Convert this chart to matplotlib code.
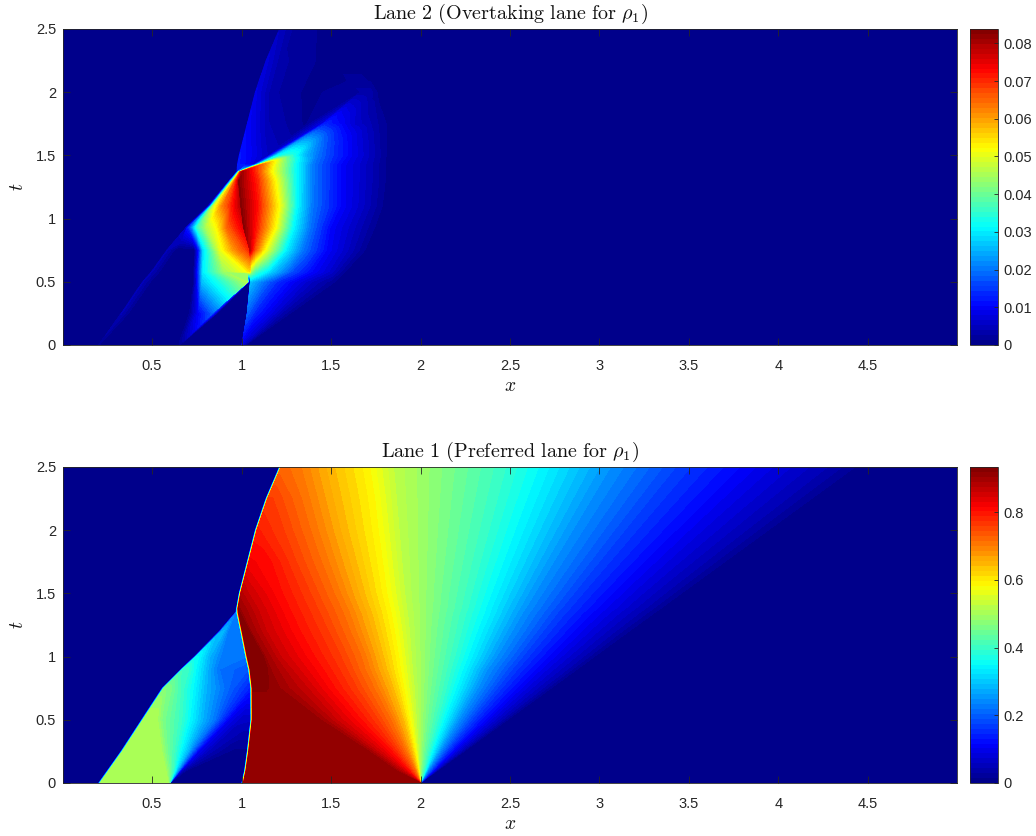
import numpy as np
import matplotlib
matplotlib.use('Agg')
import matplotlib.pyplot as plt
from matplotlib.colors import LinearSegmentedColormap

plt.rcParams['font.family'] = ['Liberation Sans', 'DejaVu Sans']
plt.rcParams['mathtext.fontset'] = 'cm'

XMIN = 0.0025
XMAX = 4.9975

# ---- Lane 2: nodes read row by row (t), x position and density at each node
t_lane2 = [0, .25, .5, .58, .75, .93, 1.1, 1.3, 1.37, 1.43, 1.5, 1.75, 2, 2.25, 2.5]
x_lane2 = [
    [.2, .202, .21, .64, .645, .65, .655, .66, 1.0, 1.002, 1.006, 1.01, 1.014, 1.018, 1.022, 1.026],
    [.325, .33, .385, .70, .72, .76, .835, .865, 1.03, 1.032, 1.08, 1.13, 1.18, 1.22, 1.26, 1.29],
    [.445, .45, .51, .73, .745, .78, 1.035, 1.04, 1.047, 1.05, 1.12, 1.2, 1.3, 1.4, 1.5, 1.56],
    [.495, .5, .56, .73, .748, .785, .90, 1.03, 1.047, 1.049, 1.08, 1.16, 1.28, 1.38, 1.5, 1.6],
    [.58, .585, .64, .735, .755, .785, .88, .95, 1.045, 1.047, 1.07, 1.13, 1.25, 1.34, 1.48, 1.72],
    [.69, .692, .70, .72, .75, .80, .86, .92, 1.01, 1.012, 1.09, 1.19, 1.29, 1.38, 1.5, 1.78],
    [.81, .82, .83, .84, .855, .89, .94, .975, .995, .997, 1.09, 1.21, 1.31, 1.395, 1.56, 1.82],
    [.93, .937, .944, .95, .958, .966, .972, .978, .982, .984, 1.09, 1.19, 1.31, 1.4, 1.56, 1.84],
    [.972, .976, .98, .984, .988, .992, .996, 1.0, 1.004, 1.01, 1.09, 1.17, 1.31, 1.4, 1.56, 1.84],
    [.975, .98, 1.03, 1.07, 1.085, 1.095, 1.105, 1.115, 1.125, 1.14, 1.16, 1.19, 1.31, 1.4, 1.56, 1.84],
    [.985, .99, 1.08, 1.15, 1.18, 1.2, 1.23, 1.26, 1.29, 1.31, 1.33, 1.36, 1.42, 1.5, 1.62, 1.84],
    [1.03, 1.035, 1.15, 1.36, 1.45, 1.46, 1.48, 1.5, 1.53, 1.56, 1.6, 1.64, 1.68, 1.72, 1.78, 1.86],
    [1.075, 1.08, 1.17, 1.36, 1.66, 1.665, 1.68, 1.69, 1.7, 1.71, 1.72, 1.73, 1.74, 1.75, 1.76, 1.78],
    [1.135, 1.14, 1.22, 1.45, 1.46, 1.5, 1.52, 1.54, 1.56, 1.58, 1.6, 1.62, 1.64, 1.66, 1.68, 1.7],
    [1.21, 1.215, 1.3, 1.47, 1.48, 1.5, 1.52, 1.54, 1.56, 1.58, 1.6, 1.62, 1.64, 1.66, 1.68, 1.7],
]
z_lane2 = [
    [0, .002, 0, 0, .001, .001, .001, 0, 0, .008, .007, .006, .005, .004, .002, 0],
    [0, .004, 0, 0, .003, .01, .018, 0, 0, .018, .013, .010, .007, .004, .002, 0],
    [0, .004, 0, 0, .006, .026, .046, 0, 0, .026, .02, .014, .009, .005, .002, 0],
    [0, .004, 0, 0, .008, .03, .044, .052, .055, .045, .037, .028, .017, .011, .006, 0],
    [0, .004, 0, 0, .008, .028, .05, .06, .07, .078, .068, .052, .03, .02, .01, 0],
    [0, .006, .012, .02, .035, .045, .052, .065, .075, .083, .07, .052, .031, .02, .01, 0],
    [0, .01, .03, .045, .052, .062, .07, .076, .079, .083, .072, .052, .031, .02, .01, 0],
    [0, .02, .035, .05, .06, .068, .072, .076, .079, .083, .07, .052, .031, .02, .01, 0],
    [0, .012, .025, .04, .055, .068, .075, .078, .08, .08, .068, .052, .031, .02, .01, 0],
    [0, .012, .01, .007, .02, .035, .05, .06, .063, .06, .056, .05, .031, .02, .01, 0],
    [0, .012, .008, .005, .02, .03, .034, .035, .034, .031, .028, .025, .02, .015, .009, 0],
    [0, .01, .004, .001, .008, .012, .013, .012, .011, .01, .008, .006, .005, .004, .002, 0],
    [0, .008, .003, .001, .002, .003, .003, .003, .003, .003, .003, .003, .002, .002, .001, 0],
    [0, .007, .003, .001, 0, 0, 0, 0, 0, 0, 0, 0, 0, 0, 0, 0],
    [0, .005, .002, .001, 0, 0, 0, 0, 0, 0, 0, 0, 0, 0, 0, 0],
]

# ---- Lane 1: contour positions x(t) for each density value
t_lane1 = [0, .1, .25, .5, .75, .9, 1.0, 1.2, 1.35, 1.38, 1.5, 1.75, 2.0, 2.25, 2.5]
shock_lane1 = [1.0, 1.015, 1.03, 1.05, 1.05, 1.038, 1.022, .994, .972, .97, .985, 1.03, 1.075, 1.135, 1.21]
front_lane1 = [.2, .25, .325, .44, .555, .66, .735, .873, .965, .97, .985, 1.03, 1.075, 1.135, 1.21]
front_state = [.51, .51, .51, .51, .47, .40, .35, .27, .22, 0, 0, 0, 0, 0, 0]
left_state = [0, 0, .01, .06, .14, .19, .22, .22, .22, 0, 0, 0, 0, 0, 0]
right_state = [.905, .905, .905, .905, .92, .93, .93, .93, .93, .93, .88, .82, .79, .76, .72]

z_left = [.51, .51, .46, .40, .35, .28, .22, .10, .05, .02, 0, 0]
x_left = [
    [0, 0, 0, 0, 0, 0, 0, 0, 0, 0, 0, 0, 0, 0, 0],
    [.59, .57, .545, .52, .56, 0, 0, 0, 0, 0, 0, 0, 0, 0, 0],
    [.595, .595, .58, .56, .60, 0, 0, 0, 0, 0, 0, 0, 0, 0, 0],
    [.6, .62, .63, .66, .67, .70, .74, .875, .97, 0, 0, 0, 0, 0, 0],
    [.6, .63, .66, .71, .73, .745, .76, .88, .975, 0, 0, 0, 0, 0, 0],
    [.6, .64, .70, .78, .80, .81, .82, .90, .975, 0, 0, 0, 0, 0, 0],
    [.6, .65, .72, .85, .90, .87, .90, .93, .975, 0, 0, 0, 0, 0, 0],
    [.6, .66, .76, .93, 2, 2, 2, 2, 2, 2, 2, 2, 2, 2, 2],
    [.6, .67, .82, 1.0, 2, 2, 2, 2, 2, 2, 2, 2, 2, 2, 2],
    [.6, .69, .90, 2, 2, 2, 2, 2, 2, 2, 2, 2, 2, 2, 2],
    [.6, .70, .95, 2, 2, 2, 2, 2, 2, 2, 2, 2, 2, 2, 2],
    [2, 2, 2, 2, 2, 2, 2, 2, 2, 2, 2, 2, 2, 2, 2],
]

z_right = [.93, .93, .905, .86, .81, .76, .71, .65, .59, .52, .46, .40, .34, .25, .17, .09, .04, 0]
x_right = [
    [0, 0, 0, 0, 0, 0, 0, 0, 0, 0, 0, 0, 0, 0, 0],
    [0, 0, 0, 0, 1.144, 1.135, 1.116, 1.04, .985, .975, 0, 0, 0, 0, 0],
    [2, 1.86, 1.71, 1.44, 1.21, 1.16, 1.13, 1.05, 1.0, .99, 0, 0, 0, 0, 0],
    [2, 1.90, 1.76, 1.53, 1.37, 1.28, 1.22, 1.14, 1.10, 1.09, 1.04, 0, 0, 0, 0],
    [2, 1.93, 1.83, 1.65, 1.50, 1.43, 1.38, 1.30, 1.25, 1.24, 1.2, 1.14, 1.09, 0, 0],
    [2, 1.95, 1.88, 1.76, 1.64, 1.585, 1.55, 1.48, 1.43, 1.42, 1.38, 1.3, 1.23, 1.17, 0],
    [2, 1.97, 1.92, 1.84, 1.75, 1.70, 1.68, 1.62, 1.58, 1.57, 1.53, 1.46, 1.40, 1.35, 1.30],
    [2, 1.98, 1.95, 1.90, 1.84, 1.80, 1.78, 1.74, 1.71, 1.70, 1.67, 1.62, 1.57, 1.53, 1.49],
    [2, 1.99, 1.97, 1.935, 1.90, 1.88, 1.87, 1.845, 1.825, 1.82, 1.80, 1.775, 1.75, 1.73, 1.70],
    [2, 1.995, 1.99, 1.98, 1.97, 1.96, 1.955, 1.945, 1.935, 1.93, 1.92, 1.905, 1.89, 1.875, 1.86],
    [2, 2.005, 2.015, 2.03, 2.045, 2.055, 2.06, 2.07, 2.08, 2.085, 2.09, 2.105, 2.12, 2.135, 2.15],
    [2, 2.02, 2.045, 2.09, 2.135, 2.16, 2.18, 2.215, 2.24, 2.25, 2.27, 2.315, 2.36, 2.405, 2.45],
    [2, 2.03, 2.07, 2.14, 2.21, 2.25, 2.28, 2.335, 2.38, 2.385, 2.42, 2.49, 2.56, 2.63, 2.70],
    [2, 2.04, 2.105, 2.21, 2.315, 2.37, 2.42, 2.505, 2.565, 2.58, 2.63, 2.735, 2.84, 2.945, 3.05],
    [2, 2.06, 2.145, 2.29, 2.435, 2.52, 2.58, 2.695, 2.78, 2.80, 2.87, 3.015, 3.16, 3.305, 3.45],
    [2, 2.08, 2.195, 2.39, 2.585, 2.70, 2.78, 2.935, 3.05, 3.08, 3.17, 3.365, 3.56, 3.755, 3.95],
    [2, 2.09, 2.23, 2.46, 2.69, 2.83, 2.92, 3.10, 3.24, 3.27, 3.38, 3.61, 3.84, 4.07, 4.30],
    [2, 2.10, 2.25, 2.50, 2.75, 2.90, 3.0, 3.2, 3.35, 3.38, 3.5, 3.75, 4.0, 4.25, 4.5],
]

# Colorbar ranges and ticks
zmax_lane2 = 0.0838
zmax_lane1 = 0.933
cticks_lane2 = [0, .01, .02, .03, .04, .05, .06, .07, .08]
cticks_lane1 = [0, .2, .4, .6, .8]
xticks = [.5, 1, 1.5, 2, 2.5, 3, 3.5, 4, 4.5]
yticks = [0, .5, 1, 1.5, 2, 2.5]
xlabels = ['0.5', '1', '1.5', '2', '2.5', '3', '3.5', '4', '4.5']
ylabels = ['0', '0.5', '1', '1.5', '2', '2.5']

title_lane2 = r'$\mathrm{Lane\ 2\ (Overtaking\ lane\ for\ }\rho_1\mathrm{)}$'
title_lane1 = r'$\mathrm{Lane\ 1\ (Preferred\ lane\ for\ }\rho_1\mathrm{)}$'

# MATLAB's jet is a bit different from the matplotlib one
jet_matlab = LinearSegmentedColormap.from_list('jet_matlab', [
    (0, (0, 0, .5156)), (.125, (0, 0, 1)), (.375, (0, 1, 1)),
    (.625, (1, 1, 0)), (.875, (1, 0, 0)), (1, (.5, 0, 0))], N=256)


def mesh_lane2():
    x = np.array(x_lane2)
    z = np.array(z_lane2)
    nrow = x.shape[0]
    X = np.column_stack([np.full(nrow, XMIN), x, np.full(nrow, XMAX)])
    Z = np.column_stack([np.zeros(nrow), z, np.zeros(nrow)])
    T = np.repeat(np.array(t_lane2)[:, None], X.shape[1], axis=1)
    return X, T, Z


def mesh_lane1():
    shock = np.array(shock_lane1)
    front = np.array(front_lane1)
    nrow = len(t_lane1)
    cols_x = [np.full(nrow, XMIN), front]
    cols_z = [np.zeros(nrow), np.zeros(nrow)]
    # left wave, kept between the front and the shock
    lo = np.minimum(front + 0.012, shock)
    for zval, xcol in zip(z_left, x_left):
        xc = np.clip(np.array(xcol, float), lo, shock)
        zc = np.maximum(zval, np.array(left_state))
        zc = np.where(xc <= lo, np.minimum(zc, front_state), zc)
        cols_x.append(xc)
        cols_z.append(zc)
    # right part, kept to the right of the shock
    hi = shock + 0.012
    for zval, xcol in zip(z_right, x_right):
        cols_x.append(np.maximum(np.array(xcol, float), hi))
        cols_z.append(np.minimum(zval, np.array(right_state)))
    cols_x.append(np.full(nrow, XMAX))
    cols_z.append(np.zeros(nrow))
    X = np.column_stack(cols_x)
    Z = np.column_stack(cols_z)
    T = np.repeat(np.array(t_lane1)[:, None], X.shape[1], axis=1)
    return X, T, Z


def draw_panel(fig, top_px, X, T, Z, zmax, cticks, cticklabels, title):
    W, H = 1036.0, 836.0
    h = 316.0
    ax = fig.add_axes([63 / W, 1 - (top_px + h) / H, 894 / W, h / H])
    cax = fig.add_axes([970 / W, 1 - (top_px + h) / H, 28 / W, h / H])
    # slivers along the shock can miss pixels, so no white behind them
    ax.set_facecolor('#c8f060')
    levels = np.linspace(0, zmax, 65)
    cf = ax.contourf(X, T, Z, levels=levels, cmap=jet_matlab)
    ax.set_xlim(XMIN, XMAX)
    ax.set_ylim(0, 2.5)
    ax.set_xticks(xticks)
    ax.set_xticklabels(xlabels)
    ax.set_yticks(yticks)
    ax.set_yticklabels(ylabels)
    ax.tick_params(direction='in', top=True, right=True, length=5, width=0.6,
                   color='#262626', labelcolor='#262626', labelsize=10.5)
    ax.tick_params(axis='x', pad=10)
    ax.tick_params(axis='y', pad=5)
    for s in ax.spines.values():
        s.set_linewidth(0.6)
        s.set_color('#262626')
    ax.set_title(title, fontsize=14.5, pad=7, color='#111111')
    ax.set_xlabel(r'$x$', fontsize=14, labelpad=4, color='#111111')
    ax.set_ylabel(r'$t$', fontsize=14, labelpad=6, color='#111111')

    cbar = fig.colorbar(cf, cax=cax, ticks=cticks)
    cbar.ax.set_yticklabels(cticklabels)
    cbar.ax.tick_params(direction='in', length=3, width=0.6, color='#262626',
                        labelcolor='#262626', labelsize=10.5, pad=4)
    cbar.outline.set_linewidth(0.6)
    cbar.outline.set_edgecolor('#262626')
    return ax


fig = plt.figure(figsize=(10.36, 8.36), dpi=100)

X2, T2, Z2 = mesh_lane2()
draw_panel(fig, 29, X2, T2, Z2, zmax_lane2, cticks_lane2,
           ['0', '0.01', '0.02', '0.03', '0.04', '0.05', '0.06', '0.07', '0.08'], title_lane2)

X1, T1, Z1 = mesh_lane1()
draw_panel(fig, 467, X1, T1, Z1, zmax_lane1, cticks_lane1,
           ['0', '0.2', '0.4', '0.6', '0.8'], title_lane1)

fig.savefig('out.png', dpi=100)
